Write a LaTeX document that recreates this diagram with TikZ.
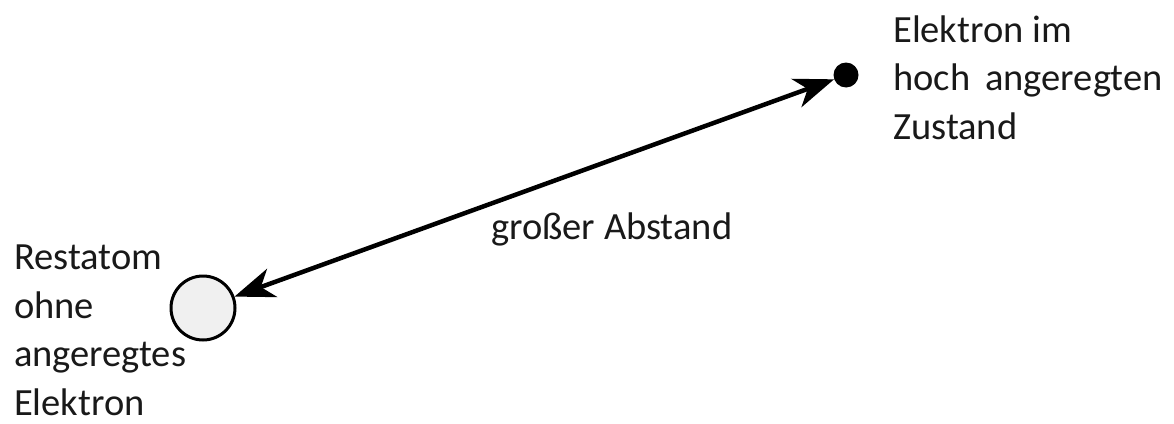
\documentclass[tikz,border=0pt]{standalone}
\usepackage{fontspec}
\setmainfont{Carlito}
\usetikzlibrary{arrows.meta}
\begin{document}
\begin{tikzpicture}[x=1pt,y=-1pt,
  lbl/.style={font=\fontsize{38.5}{48.5}\selectfont, align=left, inner sep=0pt, text=black!90},
  arr/.style={line width=4.5pt, {Stealth[length=40pt,width=30pt,inset=12pt]}-{Stealth[length=40pt,width=30pt,inset=12pt]}}
]
\useasboundingbox (0,0) rectangle (1174,423);
\node[circle, draw, line width=3pt, fill=black!6, minimum size=64pt, inner sep=0pt] (atom) at (203,308) {};
\node[circle, fill=black, minimum size=25pt, inner sep=0pt] (el) at (846,75) {};
\draw[arr] (atom) -- (el);
\node[lbl, anchor=base west] (mid) at (491,239) {großer Abstand};
\node[lbl, anchor=base west] (right) at (893,139) {Elektron im\\hoch\, angeregten\\Zustand};
\node[lbl, anchor=base west] (left) at (14,415) {Restatom\\ohne\\angeregtes\\Elektron};
\end{tikzpicture}
\end{document}
